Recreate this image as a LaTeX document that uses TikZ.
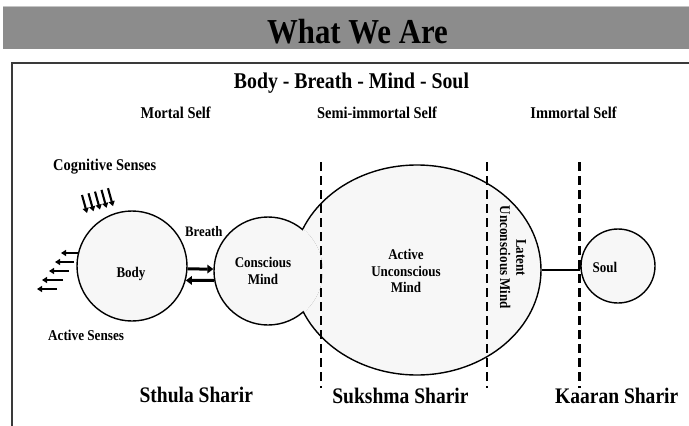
\documentclass[tikz,border=0pt]{standalone}
\usepackage{fontspec}
\setmainfont{Liberation Serif}[FakeStretch=0.88]
\usetikzlibrary{shapes.geometric,arrows.meta}
\definecolor{barfill}{HTML}{8C8C8C}
\definecolor{barline}{HTML}{C4C4C4}
\definecolor{framecol}{HTML}{3A3A3A}
\definecolor{shapefill}{HTML}{F7F7F7}
\tikzset{
  shapeline/.style={draw=black, line width=1.4pt, fill=shapefill, inner sep=0pt},
  lbl/.style={font=\bfseries\fontsize{16.4}{18}\selectfont, inner sep=0pt, anchor=base},
  smalllbl/.style={font=\bfseries\fontsize{14.8}{16.4}\selectfont, inner sep=0pt},
  biglbl/.style={font=\bfseries\fontsize{22.2}{26}\selectfont, inner sep=0pt, anchor=base},
  divider/.style={line width=2.1pt, dash pattern=on 9pt off 5pt},
  sensearrow/.style={line width=2.1pt, -{Triangle[length=5pt,width=6pt]}},
  breatharrow/.style={line width=3pt, -{Triangle[length=6pt,width=8.5pt]}},
}
\begin{document}
\begin{tikzpicture}[x=1pt,y=-1pt]
\useasboundingbox (0,0) rectangle (689,426);
% title bar
\fill[barfill] (3,7) rectangle (689,49);
\draw[barline, line width=0.8pt] (3,6.6) -- (689,6.6);
\node[font=\bfseries\fontsize{35}{40}\selectfont, anchor=base, inner sep=0pt] (title) at (357.5,43.3) {What We Are};
% frame
\draw[framecol, line width=1.6pt] (689,63) -- (12,63) -- (12,426);
\node[font=\bfseries\fontsize{22.5}{26}\selectfont, anchor=base, inner sep=0pt] (subtitle) at (351.5,88) {Body - Breath - Mind - Soul};
\node[lbl] (mortal) at (175.7,118.3) {Mortal Self};
\node[lbl] (semi) at (377,118.3) {Semi-immortal Self};
\node[lbl] (immortal) at (573.5,118.3) {Immortal Self};
% shapes
\node[shapeline, ellipse, minimum width=248pt, minimum height=210pt] (aum) at (417,270) {};
\node[shapeline, circle, minimum size=108pt] (cm) at (268,271) {};
\begin{scope}
  \clip (aum.center) ellipse [x radius=123.3pt, y radius=104.3pt];
  \fill[shapefill] (cm.center) circle [radius=54.9pt];
\end{scope}
\node[shapeline, circle, minimum size=110pt] (body) at (132,266) {};
\node[shapeline, circle, minimum size=74pt] (soul) at (618,266) {};
% dividers
\coordinate (d1t) at (321,162); \coordinate (d1b) at (321,388);
\coordinate (d2t) at (487,162); \coordinate (d2b) at (487,388);
\coordinate (d3t) at (579.5,162); \coordinate (d3b) at (579.5,388);
\draw[divider] (d1t) -- (d1b);
\draw[divider] (d2t) -- (d2b);
\draw[divider] (d3t) -- (d3b);
% texts inside shapes
\node[smalllbl, anchor=base] (bodytxt) at (131,277.5) {Body};
\node[smalllbl, align=center] (cmtxt) at (263,271) {Conscious\\Mind};
\node[smalllbl, align=center] (aumtxt) at (406,271.3) {Active\\Unconscious\\Mind};
\node[smalllbl, align=center, rotate=-90] (lumtxt) at (513,257.5) {Latent\\Unconscious Mind};
\node[smalllbl, anchor=base] (soultxt) at (605,272.7) {Soul};
% connectors
\draw[line width=1.4pt] (aum.east) -- (aum.east -| soul.west);
\draw[breatharrow] (body.-3) -- (cm.178);
\draw[breatharrow] (cm.190) -- (body.-15);
\node[font=\bfseries\fontsize{14.5}{16}\selectfont, anchor=base west, inner sep=0pt] (breath) at (185,236.7) {Breath};
% senses
\node[lbl, anchor=base west] (cog) at (53,170) {Cognitive Senses};
\node[font=\bfseries\fontsize{15}{17}\selectfont, anchor=base west, inner sep=0pt] (act) at (48,340) {Active Senses};
\foreach \i in {0,...,4}
  \draw[sensearrow] ({82+6.5*\i},{195-1.7*\i}) -- ++(5,18);
\foreach \yy/\xr/\xl in {253/79/61, 262/74/55, 271/69/49, 280/63/42, 289/57/37}
  \draw[sensearrow] (\xr,\yy) -- (\xl,\yy);
% bottom labels
\node[biglbl] (sthula) at (196.3,402.7) {Sthula Sharir};
\node[biglbl] (sukshma) at (400.5,403.3) {Sukshma Sharir};
\node[biglbl] (kaaran) at (616.7,403) {Kaaran Sharir};
\end{tikzpicture}
\end{document}
